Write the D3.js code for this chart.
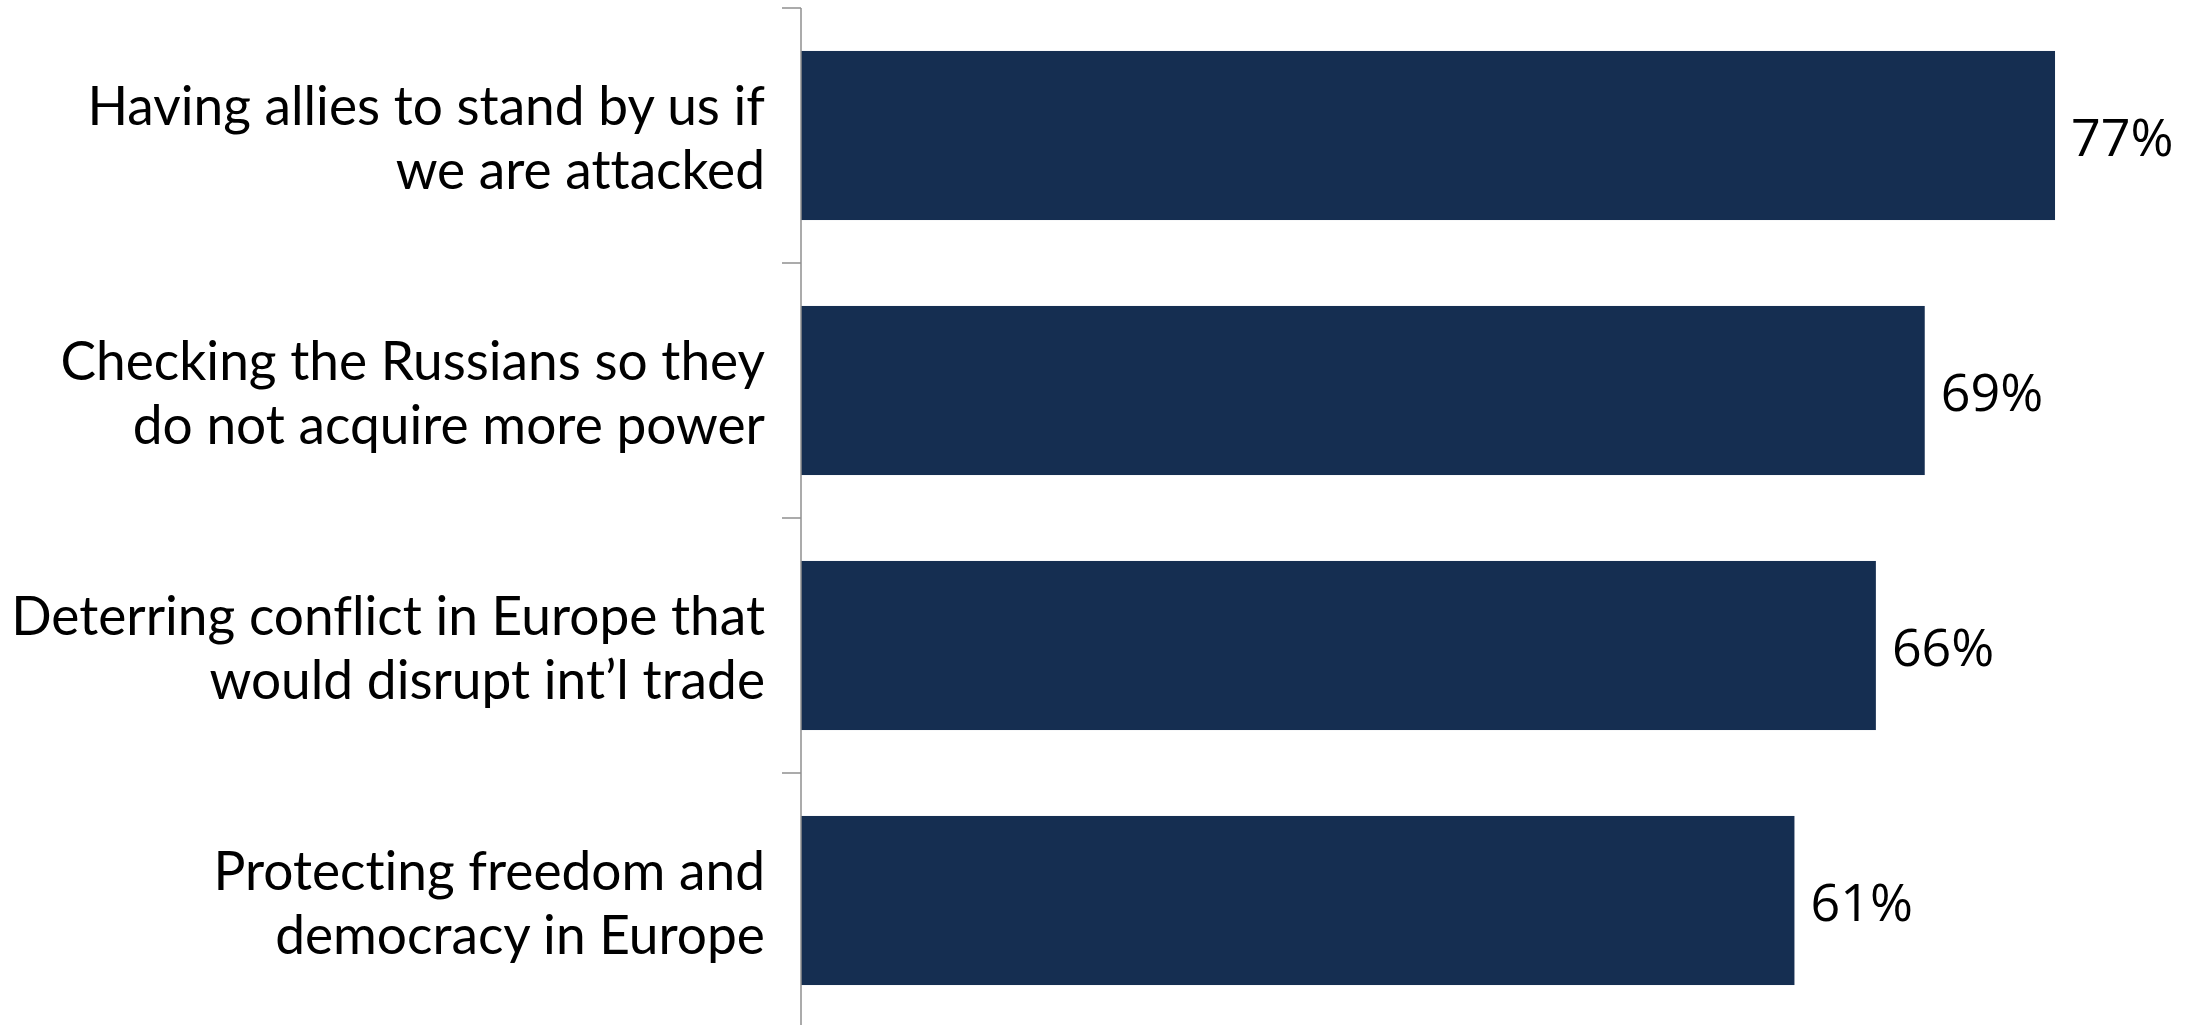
<!DOCTYPE html>
<html>
<head>
<meta charset="utf-8">
<script src="https://cdn.jsdelivr.net/npm/d3@7"></script>
<style>
  html, body { margin: 0; padding: 0; background: #ffffff; }
  svg { display: block; }
  text { font-variant-ligatures: none; }
</style>
</head>
<body>
<svg id="chart" width="2185" height="1025"></svg>
<script>
// Reasons for supporting NATO, share of respondents
const categories = [
  "Having allies to stand by us if we are attacked",
  "Checking the Russians so they do not acquire more power",
  "Deterring conflict in Europe that would disrupt int\u2019l trade",
  "Protecting freedom and democracy in Europe"
];
const labelLines = [
  ["Having allies to stand by us if", "we are attacked"],
  ["Checking the Russians so they", "do not acquire more power"],
  ["Deterring conflict in Europe that", "would disrupt int\u2019l trade"],
  ["Protecting freedom and", "democracy in Europe"]
];
const values = [77, 69, 66, 61];

const W = 2185, H = 1025;
const axisX = 801;
const labelRight = 765;
const labelFont = "Lato, 'Open Sans', sans-serif";
const valueFont = "'Open Sans', 'Noto Sans', sans-serif";

const svg = d3.select("#chart");

const x = d3.scaleLinear().domain([0, 100]).range([axisX, axisX + 1628.6]);
const y = d3.scaleBand().domain(categories).range([8, 1028])
  .paddingInner(0.337).paddingOuter(0.1685);

// bars
svg.append("g").selectAll("rect")
  .data(categories)
  .join("rect")
  .attr("x", x(0))
  .attr("y", d => y(d))
  .attr("width", (d, i) => x(values[i]) - x(0))
  .attr("height", y.bandwidth())
  .attr("fill", "#152e51");

// category axis: vertical line with ticks at band boundaries
const axis = svg.append("g").attr("stroke", "#8f8f8f").attr("stroke-width", 1.5);
axis.append("line")
  .attr("x1", axisX).attr("x2", axisX)
  .attr("y1", y.range()[0]).attr("y2", H);
axis.selectAll("line.tick")
  .data(categories)
  .join("line")
  .attr("class", "tick")
  .attr("x1", axisX - 19).attr("x2", axisX)
  .attr("y1", d => y(d) - y.step() * y.paddingOuter())
  .attr("y2", d => y(d) - y.step() * y.paddingOuter());

// category labels, two lines, right aligned; size chosen so the longest line
// fills the space left of the axis
const labels = svg.append("g")
  .attr("font-family", labelFont)
  .attr("fill", "#000")
  .attr("text-anchor", "end");
const probe = labels.append("text").attr("font-size", 100);
let widest = 0;
labelLines.flat().forEach(s => {
  probe.text(s);
  widest = Math.max(widest, probe.node().getComputedTextLength());
});
probe.remove();
const labelSize = Math.min(60, 100 * 754 / widest);
labels.attr("font-size", labelSize);
const lineH = 64;
categories.forEach((c, i) => {
  const cy = y(c) + y.bandwidth() / 2;
  const t = labels.append("text")
    .attr("x", labelRight)
    .attr("y", cy - lineH / 2 + labelSize * 0.36 + 2);
  labelLines[i].forEach((ln, j) => {
    t.append("tspan").attr("x", labelRight).attr("dy", j === 0 ? 0 : lineH).text(ln);
  });
});

// value labels
svg.append("g")
  .attr("font-family", valueFont)
  .attr("font-size", 52)
  .attr("fill", "#000")
  .selectAll("text")
  .data(categories)
  .join("text")
  .attr("x", (d, i) => x(values[i]) + 16)
  .attr("y", d => y(d) + y.bandwidth() / 2 + 20)
  .text((d, i) => values[i] + "%");
</script>
</body>
</html>
